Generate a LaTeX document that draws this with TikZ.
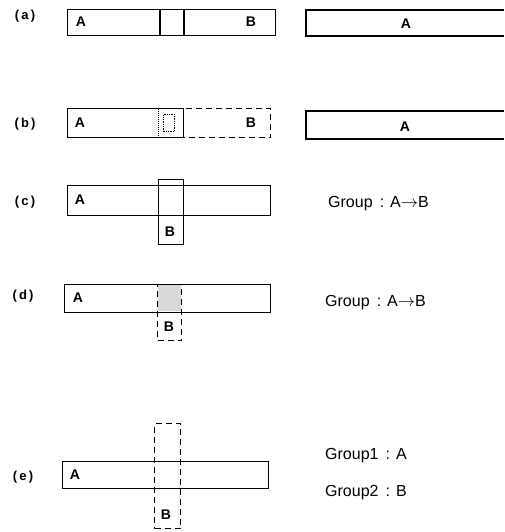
\documentclass[tikz,border=0pt]{standalone}
\usepackage{fontspec}
\setmainfont{Liberation Sans}
\usetikzlibrary{positioning}
\begin{document}
\begin{tikzpicture}[x=1pt,y=-1pt,
  box/.style={draw, line width=1.3pt, inner sep=0pt, anchor=north west},
  dbox/.style={box, dash pattern=on 6pt off 4pt},
  sbox/.style={box, densely dotted, line width=1pt},
  lab/.style={font=\fontsize{13}{13}\selectfont\bfseries},
  txt/.style={font=\fontsize{14}{14}\selectfont\bfseries},
  grp/.style={font=\fontsize{16}{16}\selectfont, anchor=west, inner sep=0pt},
  open/.style={line width=1.3pt}]
\useasboundingbox (0,0) rectangle (504,532);
% (a)
\node[lab] (la) at (25,16) {(\,a\,)};
\node[box, minimum width=208pt, minimum height=26pt] (aAB) at (67,9) {};
\draw[line width=1.3pt] (160,9) -- (160,35);
\draw[line width=1.3pt] (184,9) -- (184,35);
\node[txt] (aA) at (81,22) {A};
\node[txt] (aB) at (251,22) {B};
\draw[open] (504,10) -- (306,10) -- (306,36) -- (504,36);
\coordinate (ar) at (406,24);
\node[txt] (aA2) at (ar) {A};
% (b)
\node[lab] (lb) at (25,124) {(\,b\,)};
\node[dbox, minimum width=112pt, minimum height=29pt] (bB) at (158,108) {};
\node[box, fill=white, minimum width=116pt, minimum height=29pt] (bA) at (67,108) {};
\draw[densely dotted, line width=1pt] (158,109) -- (158,137);
\node[sbox, minimum width=11pt, minimum height=17pt] (bs) at (163,114) {};
\node[txt] (bAt) at (80,123) {A};
\node[txt] (bBt) at (251,123) {B};
\draw[open] (504,111) -- (306,111) -- (306,139) -- (504,139);
\node[txt] (bA2) at (405,127) {A};
% (c)
\node[lab] (lc) at (25,202) {(\,c\,)};
\node[box, minimum width=203pt, minimum height=30pt] (cA) at (67,185) {};
\node[box, minimum width=25pt, minimum height=65pt] (cB) at (158,179) {};
\node[txt] (cAt) at (80,200) {A};
\node[txt] (cBt) at (170,232) {B};
\node[grp] (cg) at (328,204) {Group\, : A$\rightarrow$B};
% (d)
\node[lab] (ld) at (23,296) {(\,d\,)};
\node[box, minimum width=206pt, minimum height=28pt] (dA) at (64,284) {};
\fill[gray!30] (158,285) rectangle (181,311);
\node[dbox, minimum width=24pt, minimum height=56pt] (dB) at (157,284) {};
\node[txt] (dAt) at (78,298) {A};
\node[txt] (dBt) at (169,327) {B};
\node[grp] (dg) at (325,303) {Group\, : A$\rightarrow$B};
% (e)
\node[lab] (le) at (23,477) {(\,e\,)};
\node[box, minimum width=206pt, minimum height=27pt] (eA) at (62,461) {};
\node[dbox, minimum width=26pt, minimum height=105pt] (eB) at (154,423) {};
\node[txt] (eAt) at (75,475) {A};
\node[txt] (eBt) at (166,515) {B};
\node[grp] (eg1) at (325,456) {Group1\, : A};
\node[grp] (eg2) at (325,493) {Group2\, : B};
\end{tikzpicture}
\end{document}
